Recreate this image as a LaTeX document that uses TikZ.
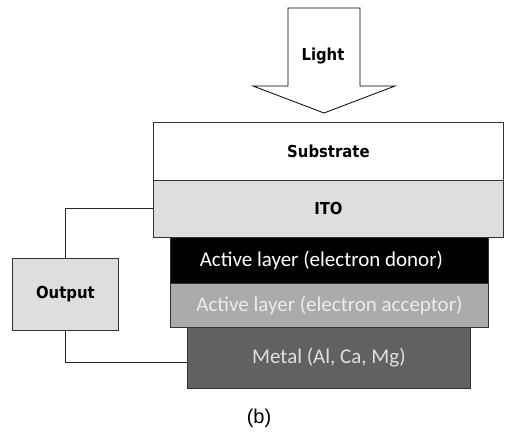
\documentclass[tikz,border=0pt]{standalone}
\usepackage{fontspec}
\setmainfont{Carlito}
\newfontfamily\condb{DejaVu Sans Condensed}
\newfontfamily\arialf{Liberation Sans}
\begin{document}
\begin{tikzpicture}[x=1pt,y=-1pt,
  layer/.style={draw=black!80,line width=0.8pt,minimum height=#1,inner sep=0pt,anchor=north west},
  boldlbl/.style={font=\condb\bfseries\fontsize{16.5}{19}\selectfont},
  lyrlbl/.style={font=\fontsize{21}{24}\selectfont},
  wire/.style={draw=black!85,line width=0.8pt}]
\useasboundingbox (0,0) rectangle (506,434);
% light arrow
\draw[line width=0.8pt,fill=white] (288,8) -- (360,8) -- (360,86) -- (395,86) -- (324,113) -- (253,86) -- (288,86) -- cycle;
\node[boldlbl] (light) at (323,56) {Light};
% layers
\node[layer=58pt,minimum width=350pt,fill=white] (sub) at (153,122) {};
\node[boldlbl] at (sub.center) {Substrate};
\node[layer=57pt,minimum width=350pt,fill=black!13] (ito) at (153,180) {};
\node[boldlbl] at (ito.center) {ITO};
\node[layer=46pt,minimum width=318pt,fill=black] (don) at (170,237) {};
\node[lyrlbl,text=white] at ([xshift=-8pt]don.center) {Active layer (electron donor)};
\node[layer=44pt,minimum width=318pt,fill=black!33] (acc) at (170,283) {};
\node[lyrlbl,text=white!92!black] at (acc.center) {Active layer (electron acceptor)};
\node[layer=61pt,minimum width=283pt,fill=black!62] (met) at (187,327) {};
\node[lyrlbl,text=black!12] at (met.center) {Metal (Al, Ca, Mg)};
% output
\node[layer=72pt,minimum width=106pt,fill=black!13] (out) at (12,258) {};
\node[boldlbl] at (out.center) {Output};
\coordinate (c1) at (65,208);
\coordinate (c2) at (65,362);
\draw[wire] (out.north -| c1) -- (c1) -- (c1 -| ito.west);
\draw[wire] (out.south -| c2) -- (c2) -- (c2 -| met.west);
\node[font=\arialf\fontsize{20}{24}\selectfont] (lab) at (259,418) {(b)};
\end{tikzpicture}
\end{document}
